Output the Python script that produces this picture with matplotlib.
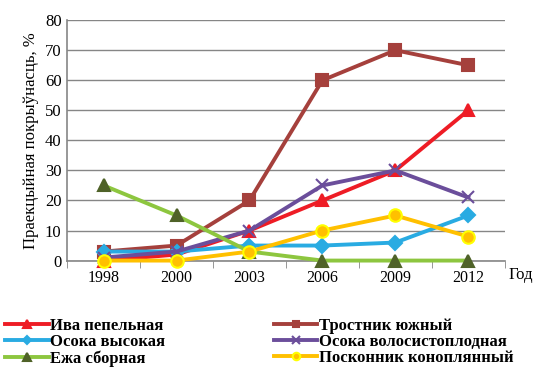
import matplotlib
matplotlib.use("Agg")
import matplotlib.pyplot as plt
import numpy as np

years = ["1998", "2000", "2003", "2006", "2009", "2012"]

iva = [0, 2, 10, 20, 30, 50]
trostnik = [3, 5, 20, 60, 70, 65]
osoka_vys = [3, 3, 5, 5, 6, 15]
osoka_vol = [1, 3, 10, 25, 30, 21]
ezha = [25, 15, 3, 0, 0, 0]
poskonnik = [0, 0, 3, 10, 15, 8]

plt.rcParams["font.family"] = ["Liberation Serif", "DejaVu Serif"]

fig = plt.figure(figsize=(5.33, 3.67), dpi=100)
ax = fig.add_axes([0.126, 0.29, 0.821, 0.655])

x = np.arange(len(years))
series = [
    ("Ива пепельная", iva, "#EE1C25", "^", "#EE1C25", "#EE1C25", 9),
    ("Тростник южный", trostnik, "#A5403C", "s", "#A5403C", "#A5403C", 8),
    ("Осока высокая", osoka_vys, "#29ABE2", "D", "#29ABE2", "#29ABE2", 7),
    ("Осока волосистоплодная", osoka_vol, "#6B4E9B", "x", "#6B4E9B", "#6B4E9B", 9),
    ("Ежа сборная", ezha, "#8DC63F", "^", "#4F6228", "#4F6228", 9),
    ("Посконник коноплянный", poskonnik, "#FFC000", "o", "#FFC000", "#FFFF00", 9),
]
# draw order: trostnik, iva, osoka_vol, osoka_vys, ezha, poskonnik on top
order = [1, 0, 3, 2, 4, 5]
handles = {}
for i in order:
    name, vals, col, mk, mfc, mec, ms = series[i]
    h, = ax.plot(x, vals, color=col, lw=2.8, marker=mk, markersize=ms,
                 markerfacecolor=mfc, markeredgecolor=mec, markeredgewidth=1.5,
                 label=name, zorder=3 + i * 0.1, clip_on=False)
    handles[i] = h

ax.set_xlim(-0.5, 5.5)
ax.set_ylim(0, 80)
ax.set_yticks(range(0, 81, 10))
ax.set_xticks(x)
ax.set_xticklabels(years)
ax.set_xticks(np.arange(-0.5, 6, 1), minor=True)
ax.tick_params(axis="x", which="major", length=0, labelsize=11.5, pad=7)
ax.tick_params(axis="x", which="minor", length=5, color="#868686", direction="out")
ax.tick_params(axis="y", length=0, labelsize=12, pad=4)
ax.grid(axis="y", color="#868686", lw=1)
ax.set_axisbelow(True)
for s in ["top", "right"]:
    ax.spines[s].set_visible(False)
for s in ["left", "bottom"]:
    ax.spines[s].set_color("#868686")
    ax.spines[s].set_linewidth(1.2)
ax.set_ylabel("Праекцыйная покрыўнасць, %", fontsize=12, labelpad=4)
fig.text(0.955, 0.252, "Год", fontsize=12, ha="left", va="center")

# legend filled row by row: left column 0, 2, 4 and right column 1, 3, 5
leg_order = [0, 2, 4, 1, 3, 5]
leg = fig.legend([handles[i] for i in leg_order], [series[i][0] for i in leg_order],
                 loc="lower left", bbox_to_anchor=(-0.018, -0.04), ncol=2,
                 frameon=False, handlelength=2.6, handletextpad=0.1,
                 columnspacing=6.5, labelspacing=0.02,
                 prop={"weight": "bold", "size": 12}, markerscale=0.6)

fig.savefig("out.png", dpi=100)
